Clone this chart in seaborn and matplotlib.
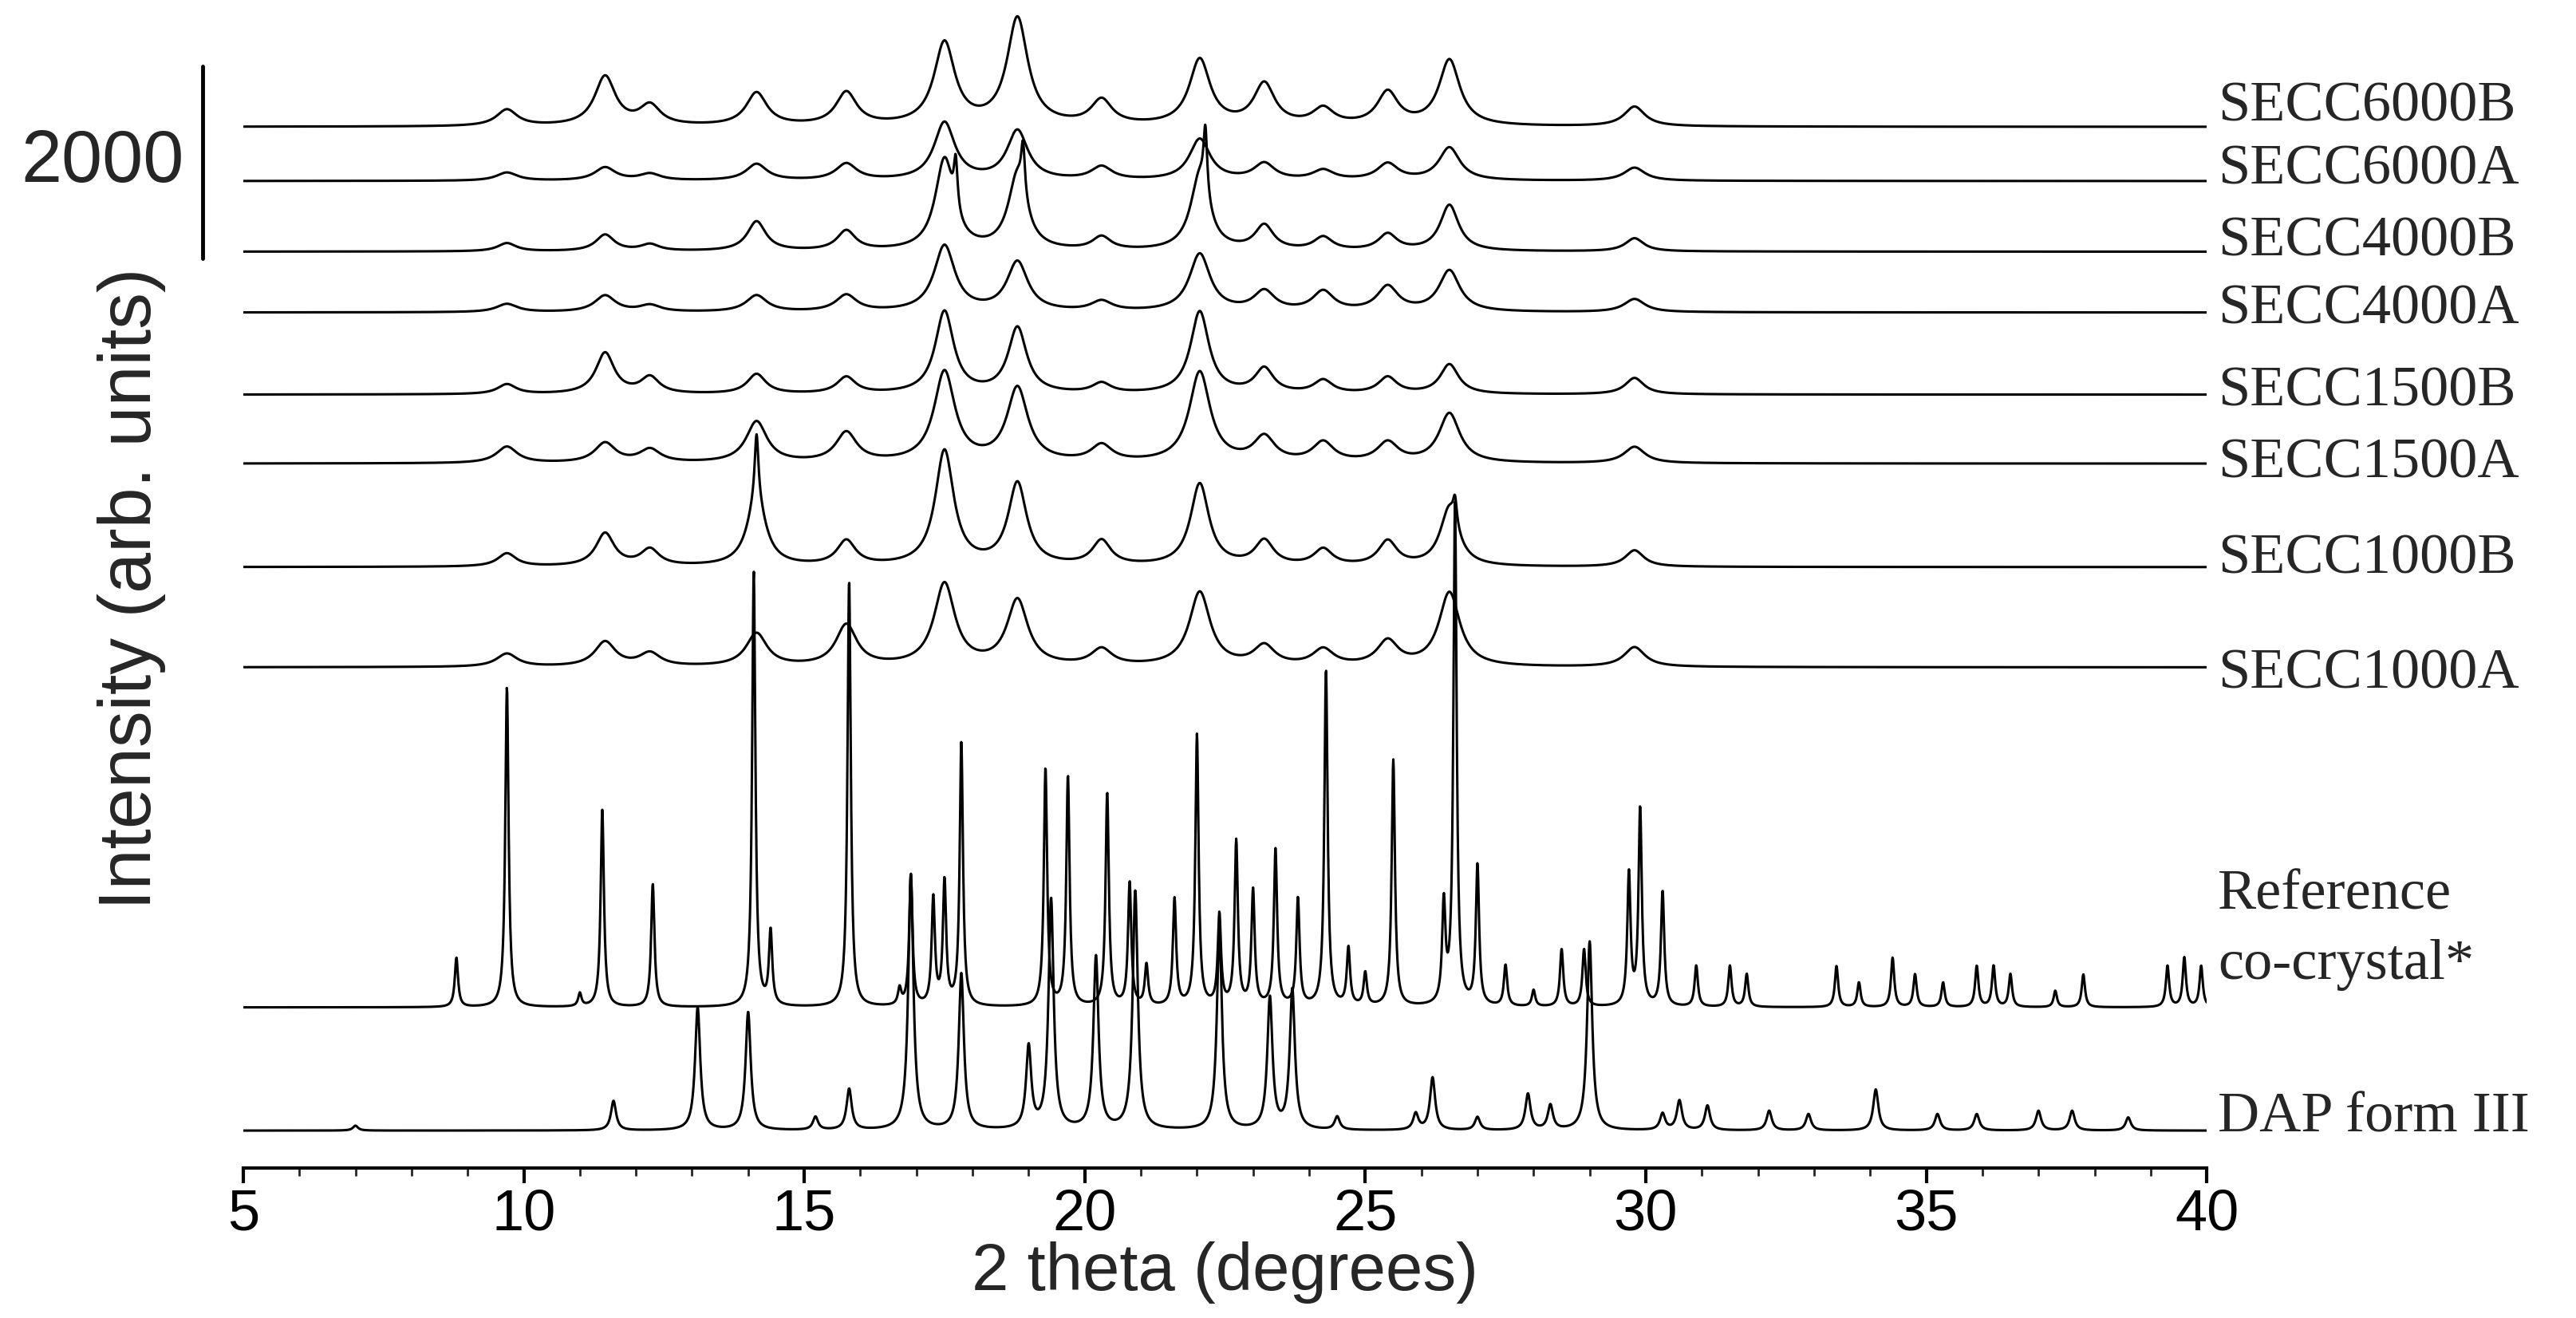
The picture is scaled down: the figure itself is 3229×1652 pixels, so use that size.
import numpy as np
import pandas as pd
import seaborn as sns
import matplotlib
matplotlib.use("Agg")
import matplotlib.pyplot as plt

sns.set_theme(style="white")
plt.rcParams['font.family'] = ['Liberation Sans', 'DejaVu Sans']

# peak lists: (position 2theta, height in arb. units), baseline offsets
names = ["SECC6000B", "SECC6000A", "SECC4000B", "SECC4000A", "SECC1500B",
         "SECC1500A", "SECC1000B", "SECC1000A", "Reference\nco-crystal*", "DAP form III"]
baselines = [634, 601, 558, 521, 471, 429, 366, 305, 98, 23]
label_y = [646, 608, 564, 523, 473, 429, 371, 301, 145, 31]
widths = [0.45, 0.45, 0.4, 0.45, 0.4, 0.45, 0.4, 0.45, 0.07, 0.11]

secc_pos = [9.7, 11.45, 12.25, 14.15, 15.75, 17.5, 18.8, 20.3, 22.05, 23.2, 24.25, 25.4, 26.5, 29.8]
h_6000B = [10, 30, 12, 20, 20, 50, 65, 15, 40, 25, 10, 20, 40, 12]
h_6000A = [5, 8, 4, 10, 10, 35, 30, 8, 25, 10, 6, 10, 20, 8]
h_4000B = [5, 10, 4, 18, 12, 55, 45, 8, 45, 15, 8, 10, 28, 8]
h_4000A = [5, 10, 4, 10, 10, 40, 30, 6, 35, 12, 12, 15, 25, 8]
h_1500B = [6, 25, 10, 12, 10, 50, 40, 6, 50, 15, 8, 10, 18, 10]
h_1500A = [10, 12, 8, 25, 18, 55, 45, 10, 55, 15, 12, 12, 30, 10]
h_1000B = [8, 20, 10, 40, 15, 70, 50, 15, 50, 15, 10, 15, 35, 10]
h_1000A = [8, 15, 8, 20, 25, 50, 40, 10, 45, 12, 10, 15, 45, 12]

# sharp crystalline spikes in the SECC patterns
spike_pos_4000B = [17.7, 18.9, 22.15]
spike_h_4000B = [30, 30, 40]
spike_pos_1000B = [14.15, 26.6]
spike_h_1000B = [40, 15]

ref_pos = [8.8, 9.7, 11.0, 11.4, 12.3, 14.1, 14.4, 15.8, 16.7, 16.9, 17.3, 17.5, 17.8, 19.3, 19.7,
           20.4, 20.8, 21.1, 21.6, 22.0, 22.4, 22.7, 23.0, 23.4, 23.8, 24.3, 24.7, 25.0, 25.5,
           26.4, 26.6, 27.0, 27.5, 28.0, 28.5, 28.9, 29.7, 29.9, 30.3, 30.9, 31.5, 31.8, 33.4,
           33.8, 34.4, 34.8, 35.3, 35.9, 36.2, 36.5, 37.3, 37.8, 39.3, 39.6, 39.9]
ref_h = [30, 195, 8, 120, 75, 265, 45, 260, 10, 80, 65, 75, 160, 145, 140,
         130, 75, 25, 65, 165, 55, 100, 70, 95, 65, 205, 35, 20, 150,
         60, 305, 85, 25, 10, 35, 35, 80, 120, 70, 25, 25, 20, 25,
         15, 30, 20, 15, 25, 25, 20, 10, 20, 25, 30, 25]

dap_pos = [7.0, 11.6, 13.1, 14.0, 15.2, 15.8, 16.9, 17.8, 19.0, 19.4, 20.2, 20.9, 22.4, 23.3, 23.7,
           24.5, 25.9, 26.2, 27.0, 27.9, 28.3, 29.0, 30.3, 30.6, 31.1, 32.2, 32.9, 34.1, 35.2,
           35.9, 37.0, 37.6, 38.6]
dap_h = [3, 18, 75, 72, 8, 25, 155, 95, 50, 140, 105, 145, 120, 80, 85,
         8, 10, 32, 8, 22, 15, 115, 10, 18, 15, 12, 10, 25, 10, 10, 12, 12, 8]

peaks = [(secc_pos, h_6000B), (secc_pos, h_6000A), (secc_pos, h_4000B), (secc_pos, h_4000A),
         (secc_pos, h_1500B), (secc_pos, h_1500A), (secc_pos, h_1000B), (secc_pos, h_1000A),
         (ref_pos, ref_h), (dap_pos, dap_h)]
spikes = {"SECC4000B": (spike_pos_4000B, spike_h_4000B), "SECC1000B": (spike_pos_1000B, spike_h_1000B)}

two_theta = np.linspace(5, 40, 5000)
rows = []
for name, base, w, (pos, hh) in zip(names, baselines, widths, peaks):
    y = np.full_like(two_theta, float(base))
    for p, h in zip(pos, hh):
        y += h / (1 + ((two_theta - p) / (w / 2)) ** 2)
    if name in spikes:
        for p, h in zip(*spikes[name]):
            y += h / (1 + ((two_theta - p) / 0.04) ** 2)
    rows.append(pd.DataFrame({"x": two_theta, "y": y, "s": name}))
df = pd.concat(rows)

fig = plt.figure(figsize=(32.3, 16.52), dpi=100)
ax = fig.add_axes([0.0944, 0.1135, 0.762, 0.88])
sns.lineplot(data=df, x="x", y="y", units="s", estimator=None, color="black",
             linewidth=2.2, ax=ax, legend=False)
ax.set_xlim(5, 40)
ax.set_ylim(0, 706)
ax.set_yticks([])
for sp in ["left", "right", "top"]:
    ax.spines[sp].set_visible(False)
ax.spines["bottom"].set_linewidth(3)
ax.spines["bottom"].set_color("black")
ax.set_xticks([5, 10, 15, 20, 25, 30, 35, 40])
ax.set_xticks(np.arange(5, 40.1, 1), minor=True)
ax.tick_params(axis="x", which="major", direction="out", length=14, width=3, labelsize=52,
               bottom=True, colors="black", pad=4)
ax.tick_params(axis="x", which="minor", direction="out", length=7, width=2, bottom=True)
ax.set_xlabel("2 theta (degrees)", fontsize=60, labelpad=0)
ax.set_ylabel("Intensity (arb. units)", fontsize=66, labelpad=70)

for name, ly in zip(names, label_y):
    ax.text(40.2, ly, name, fontsize=52, family=["Liberation Serif"], va="center",
            ha="left", clip_on=False, linespacing=1.45)

# scale bar
ax.plot([4.27, 4.27], [554, 671], color="black", linewidth=3.5, clip_on=False)
ax.text(3.95, 612, "2000", fontsize=66, ha="right", va="center", clip_on=False)

fig.savefig("out.png", dpi=100)
